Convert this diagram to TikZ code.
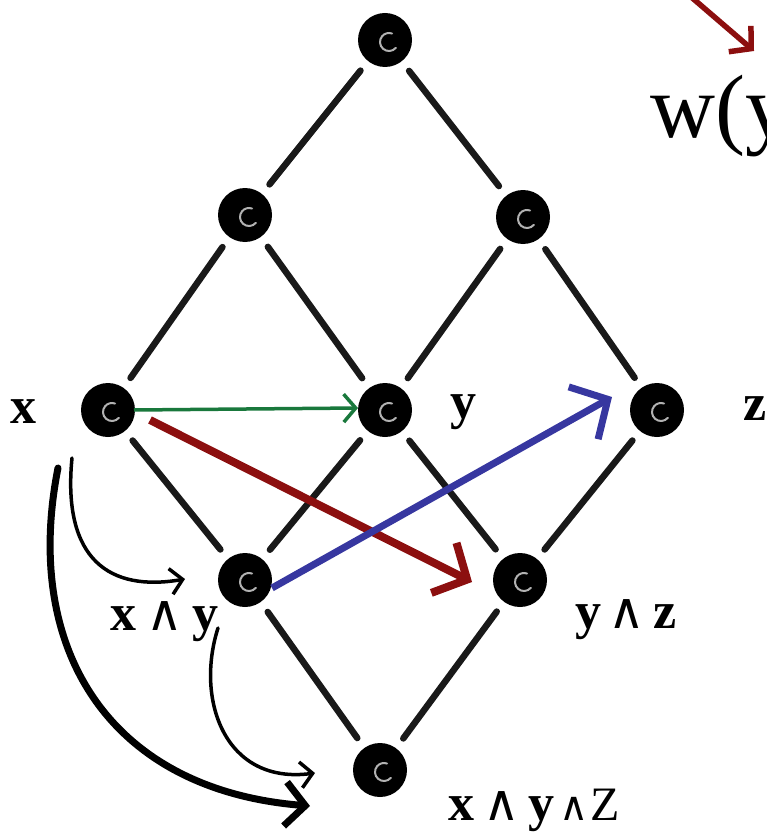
\documentclass[tikz,border=0pt]{standalone}
\usepackage{fontspec}
\setmainfont{Liberation Serif}
\newfontfamily\djv{DejaVu Sans}
\usetikzlibrary{arrows.meta}
\definecolor{arrgreen}{RGB}{25,120,60}
\definecolor{arrred}{RGB}{140,15,15}
\definecolor{arrblue}{RGB}{55,55,160}
\newcommand\wdg{{\djv\mdseries\fontsize{50}{50}\selectfont ∧}}
\newcommand\wdgs{{\djv\mdseries\fontsize{40}{40}\selectfont ∧}}
\begin{document}
\begin{tikzpicture}[x=1pt,y=-1pt,
  dot/.style={circle,fill=black,minimum size=54pt,inner sep=0pt,
    path picture={\draw[white!70!black,line width=2pt,line cap=round]
      ([shift={(4,2)}]path picture bounding box.center) ++(40:9)
      arc[start angle=40,end angle=290,radius=9];}},
  lnk/.style={line width=6.5pt,black!90,line cap=round,shorten <=12pt,shorten >=12pt},
  lbl/.style={font=\fontsize{52}{52}\selectfont\bfseries,inner sep=0pt,anchor=base west},
  curv/.style={line width=3.5pt,line cap=round,-{Straight Barb[length=12pt,width=26pt,line width=3.5pt]}},
]
\useasboundingbox (0,0) rectangle (767,837);
\clip (0,0) rectangle (767,837);

% nodes
\node[dot] (top) at (385,40) {};
\node[dot] (a) at (245,215) {};
\node[dot] (b) at (523,217) {};
\node[dot] (x) at (108,410) {};
\node[dot] (y) at (385,410) {};
\node[dot] (z) at (657,410) {};
\node[dot] (xy) at (245,580) {};
\node[dot] (yz) at (520,580) {};
\node[dot] (bot) at (380,770) {};

% lattice edges
\draw[lnk] (top) -- (a);
\draw[lnk] (top) -- (b);
\draw[lnk] (a) -- (x);
\draw[lnk] (a) -- (y);
\draw[lnk] (b) -- (y);
\draw[lnk] (b) -- (z);
\draw[lnk] (x) -- (xy);
\draw[lnk] (y) -- (xy);
\draw[lnk] (y) -- (yz);
\draw[lnk] (z) -- (yz);
\draw[lnk] (xy) -- (bot);
\draw[lnk] (yz) -- (bot);

% coordinates for arrow ends
\coordinate (gs) at (134,410);
\coordinate (ge) at (358,408);
\coordinate (rs) at (150,420);
\coordinate (re) at (472,582);
\coordinate (bs) at (272,588);
\coordinate (be) at (612,397);
\coordinate (c1s) at (72,458);
\coordinate (c1e) at (185,579);
\coordinate (c2s) at (218,628);
\coordinate (c2e) at (315,773);
\coordinate (c3s) at (58,468);
\coordinate (c3e) at (310,806);
\coordinate (ts) at (690,-4);
\coordinate (te) at (754,51);

% coloured arrows
\draw[arrgreen,line width=3.5pt,-{Straight Barb[length=12pt,width=28pt,line width=3.5pt]}] (gs) -- (ge);
\draw[arrred,line width=8pt,-{Straight Barb[length=26pt,width=56pt,line width=8pt]}] (rs) -- (re);
\draw[arrblue,line width=7pt,-{Straight Barb[length=28pt,width=60pt,line width=7pt]}] (bs) -- (be);
\draw[arrred,line width=5.5pt,-{Straight Barb[length=15pt,width=34pt,line width=5.5pt]}] (ts) -- (te);

% curved black arrows
\draw[curv] (c1s) .. controls (62,560) and (110,592) .. (c1e);
\draw[curv] (c2s) .. controls (195,700) and (225,785) .. (c2e);
\draw[line width=7pt,line cap=round,-{Straight Barb[length=20pt,width=44pt,line width=7pt]}]
  (c3s) .. controls (22,650) and (110,790) .. (c3e);

% labels
\node[lbl] (lx) at (10,423) {x};
\node[lbl] (ly) at (450,418) {y};
\node[lbl] (lz) at (743,420) {z};
\node[lbl] (lxy) at (110,630) {x\hspace{10pt}\wdg\hspace{10pt}y};
\node[lbl] (lyz) at (575,628) {y\hspace{7pt}\wdg\hspace{9pt}z};
\node[lbl] (lxyz) at (448,820) {x\hspace{9pt}\wdg\hspace{9pt}y\hspace{5pt}\wdgs\hspace{1pt}{\mdseries\fontsize{48}{48}\selectfont Z}};
\node[font=\fontsize{90}{90}\selectfont,inner sep=0pt,anchor=base west] (w) at (650,138) {w(y};
\end{tikzpicture}
\end{document}
